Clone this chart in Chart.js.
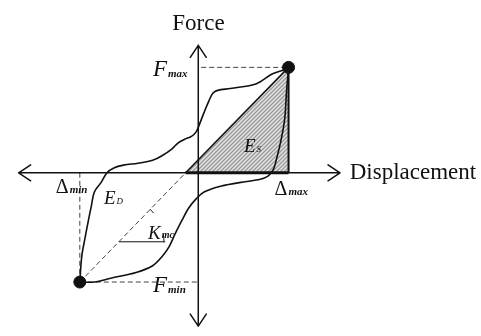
<!DOCTYPE html>
<html><head><meta charset="utf-8">
<script src="https://cdn.jsdelivr.net/npm/chart.js@4/dist/chart.umd.min.js"></script>
<style>html,body{margin:0;padding:0;background:#fff}canvas{display:block}</style>
</head><body>
<canvas id="c" width="481" height="336"></canvas>
<script>
// Hysteresis loop (schematic units: displacement, force)
const upperX = [93, 90, 76, 60, 33, 20, 15, 11, 6, 1, -2, -7, -14, -21, -27, -37, -47, -62, -77, -87, -94, -100, -107, -110, -114, -117, -120, -122];
const upperY = [110, 108, 103, 93, 88, 86, 83, 75, 63, 50, 43, 38, 35, 31, 25, 18, 13, 10, 8, 5, 0, -10, -20, -34, -54, -70, -87, -114];
const lowerX = [-122, -107, -90, -64, -47, -37, -30, -24, -17, -10, -2, 6, 23, 50, 63, 71, 75, 78, 81, 85, 89, 91, 93];
const lowerY = [-114, -114, -110, -104, -97, -87, -77, -64, -50, -37, -27, -20, -14, -9, -7, -4, 0, 5, 16, 33, 56, 86, 110];
const dMax = 93, dMin = -122, fMax = 110, fMin = -114;
const esStartX = -13; // where secant crosses displacement axis
const kmcY = -72;      // height of slope marker
const kmcEndX = -34;

const pts = (xs, ys) => xs.map((x, i) => ({x, y: ys[i]}));
const kmcStartX = dMin + (kmcY - fMin) * (dMax - dMin) / (fMax - fMin);

function hatch(ctx) {
  const s = 4, c = document.createElement('canvas');
  c.width = c.height = s;
  const g = c.getContext('2d');
  g.fillStyle = '#e4e4e4'; g.fillRect(0, 0, s, s);
  g.strokeStyle = '#999'; g.lineWidth = 1.3;
  g.beginPath();
  g.moveTo(-1, s + 1); g.lineTo(s + 1, -1);
  g.moveTo(-1, 1); g.lineTo(1, -1);
  g.moveTo(s - 1, s + 1); g.lineTo(s + 1, s - 1);
  g.stroke();
  return ctx.createPattern(c, 'repeat');
}

const INK = '#111';
const SERIF = '"Liberation Serif", "DejaVu Serif", serif';
const TRI = 8; // index of triangle dataset

const overlay = {
  id: 'overlay',
  beforeDatasetsDraw(chart) {
    const ctx = chart.ctx;
    const meta = chart.getDatasetMeta(TRI);
    ctx.save();
    ctx.fillStyle = hatch(ctx);
    ctx.beginPath();
    meta.data.forEach((p, i) => i ? ctx.lineTo(p.x, p.y) : ctx.moveTo(p.x, p.y));
    ctx.closePath();
    ctx.fill();
    ctx.restore();
  },
  afterDatasetsDraw(chart) {
    const {ctx, scales: {x, y}} = chart;
    const X = v => x.getPixelForValue(v), Y = v => y.getPixelForValue(v);
    ctx.save();
    ctx.strokeStyle = INK; ctx.fillStyle = INK; ctx.lineWidth = 1.5;
    ctx.lineCap = 'round'; ctx.lineJoin = 'round';
    // axes
    const x0 = X(0), y0 = Y(0);
    const xl = X(-185), xr = X(146), yt = Y(133), yb = Y(-160);
    ctx.beginPath();
    ctx.moveTo(xl, y0); ctx.lineTo(xr, y0);
    ctx.moveTo(x0, yt); ctx.lineTo(x0, yb);
    const L = 12, W = 8;
    ctx.moveTo(xl + L, y0 - W); ctx.lineTo(xl, y0); ctx.lineTo(xl + L, y0 + W);
    ctx.moveTo(xr - L, y0 - W); ctx.lineTo(xr, y0); ctx.lineTo(xr - L, y0 + W);
    ctx.moveTo(x0 - W, yt + L); ctx.lineTo(x0, yt); ctx.lineTo(x0 + W, yt + L);
    ctx.moveTo(x0 - W, yb - L); ctx.lineTo(x0, yb); ctx.lineTo(x0 + W, yb - L);
    ctx.stroke();

    // angle arc for Kmc
    const cx = X(kmcStartX), cy = Y(kmcY), r = 45;
    const ang = Math.atan2(Y(fMax) - Y(fMin), X(dMax) - X(dMin));
    ctx.lineWidth = 1;
    ctx.beginPath(); ctx.arc(cx, cy, r, ang, ang + 0.1); ctx.stroke();
    ctx.beginPath(); ctx.arc(cx, cy, r, -0.16, 0); ctx.stroke();

    // labels
    function lab(main, sub, px, py, mFont, sFont, dy) {
      ctx.font = mFont; ctx.textBaseline = 'alphabetic'; ctx.textAlign = 'left';
      ctx.fillText(main, px, py);
      const w = ctx.measureText(main).width;
      if (sub) { ctx.font = sFont; ctx.fillText(sub, px + w + 1, py + dy); }
    }
    const SUB = 'italic bold 11px ' + SERIF;
    lab('Force', '', x0 - 26, 30, '23px ' + SERIF);
    lab('Displacement', '', X(156), y0 + 6, '23px ' + SERIF);
    lab('F', 'max', 153, Y(fMax) + 9, 'italic 23px ' + SERIF, SUB, 1);
    lab('F', 'min', 153, Y(fMin) + 10, 'italic 23px ' + SERIF, SUB, 1);
    lab('\u0394', 'min', X(dMin) - 24, y0 + 20, '20px ' + SERIF, SUB, 0);
    lab('\u0394', 'max', X(dMax) - 14, y0 + 22, '20px ' + SERIF, SUB, 0);
    lab('E', 'D', 104, 204, 'italic 19px ' + SERIF, 'italic 9px ' + SERIF, 0);
    lab('E', 'S', 244, 152, 'italic 19px ' + SERIF, 'italic 9px ' + SERIF, 0);
    lab('K', 'mc', 148, 239, 'italic 19px ' + SERIF, 'italic bold 10px ' + SERIF, -1);
    ctx.restore();
  }
};

new Chart(document.getElementById('c'), {
  type: 'scatter',
  data: {
    datasets: [
      { // peak points
        data: [{x: dMax, y: fMax}, {x: dMin, y: fMin}],
        pointRadius: 6, pointBackgroundColor: INK, pointBorderColor: INK, showLine: false
      },
      { // hysteresis loop upper branch
        data: pts(upperX, upperY), showLine: true, borderColor: INK, borderWidth: 1.6,
        pointRadius: 0, tension: 0.35, fill: false
      },
      { // lower branch
        data: pts(lowerX, lowerY), showLine: true, borderColor: INK, borderWidth: 1.6,
        pointRadius: 0, tension: 0.35, fill: false
      },
      { // secant (dashed part)
        data: [{x: dMin, y: fMin}, {x: esStartX, y: 0}], showLine: true, borderColor: '#444',
        borderWidth: 1, borderDash: [5, 3], pointRadius: 0
      },
      { // Fmax guide
        data: [{x: 3, y: fMax}, {x: dMax, y: fMax}], showLine: true, borderColor: '#444',
        borderWidth: 1, borderDash: [5, 3], pointRadius: 0
      },
      { // Fmin guide
        data: [{x: dMin, y: fMin}, {x: 0, y: fMin}], showLine: true, borderColor: '#444',
        borderWidth: 1, borderDash: [5, 3], pointRadius: 0
      },
      { // Dmin guide
        data: [{x: dMin, y: 0}, {x: dMin, y: fMin}], showLine: true, borderColor: '#444',
        borderWidth: 1, borderDash: [5, 3], pointRadius: 0
      },
      { // Kmc horizontal
        data: [{x: kmcStartX, y: kmcY}, {x: kmcEndX, y: kmcY}], showLine: true, borderColor: INK,
        borderWidth: 1, pointRadius: 0
      },
      { // Es triangle outline (hatched fill drawn underneath from same points)
        data: [{x: esStartX, y: 0}, {x: dMax, y: fMax}, {x: dMax, y: 0}, {x: esStartX, y: 0}],
        showLine: true, borderColor: INK, pointRadius: 0, fill: false,
        borderWidth: 1.5,
        segment: { borderWidth: c => c.p0DataIndex === 0 ? 1.5 : (c.p0DataIndex === 1 ? 2 : 3) }
      }
    ]
  },
  options: {
    responsive: false, animation: false, devicePixelRatio: 1,
    layout: { padding: 0 },
    plugins: { legend: { display: false }, tooltip: { enabled: false } },
    scales: {
      x: { type: 'linear', min: -197, max: 284, display: false },
      y: { type: 'linear', min: -163, max: 173, display: false }
    }
  },
  plugins: [overlay]
});
</script>
</body></html>
